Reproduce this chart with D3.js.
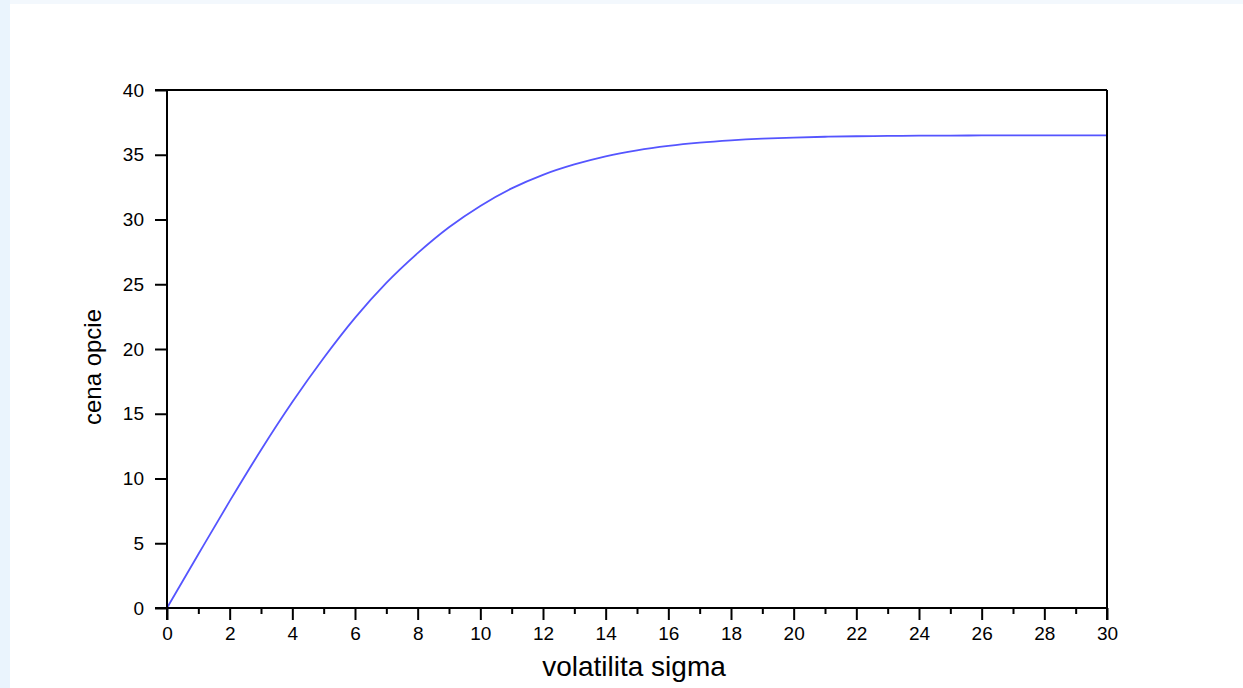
<!DOCTYPE html>
<html>
<head>
<meta charset="utf-8">
<script src="https://cdn.jsdelivr.net/npm/d3@7"></script>
<style>
  html, body { margin: 0; padding: 0; background: #ffffff; }
  svg { display: block; }
  text { font-family: "Liberation Sans", Arial, Helvetica, sans-serif; fill: #000; }
</style>
</head>
<body>
<svg id="chart" width="1243" height="688"></svg>
<script>
// Data
const sigma = [0, 1, 2, 3, 4, 5, 6, 7, 8, 9, 10, 11, 12, 13, 14, 15, 16, 17, 18, 19, 20, 21, 22, 23, 24, 25, 26, 27, 28, 29, 30];
const price = [0, 4.15, 8.25, 12.2, 15.9, 19.3, 22.4, 25.1, 27.4, 29.4, 31.05, 32.4, 33.45, 34.25, 34.88, 35.34, 35.68, 35.93, 36.11, 36.24, 36.33, 36.39, 36.43, 36.45, 36.47, 36.48, 36.49, 36.49, 36.5, 36.5, 36.5];
const xMajorTicks = [0, 2, 4, 6, 8, 10, 12, 14, 16, 18, 20, 22, 24, 26, 28, 30];
const xMinorTicks = [1, 3, 5, 7, 9, 11, 13, 15, 17, 19, 21, 23, 25, 27, 29];
const yTicks = [0, 5, 10, 15, 20, 25, 30, 35, 40];
const xLabel = "volatilita sigma";
const yLabel = "cena opcie";

const svg = d3.select("#chart");
const W = 1243, H = 688;
const mLeft = 167, mRight = 1107, mTop = 90, mBottom = 608;

// background strips
svg.append("rect").attr("x", 0).attr("y", 0).attr("width", W).attr("height", 4).attr("fill", "#f3f8fd");
svg.append("rect").attr("x", 0).attr("y", 0).attr("width", 10).attr("height", H).attr("fill", "#eaf4fd");

const x = d3.scaleLinear().domain([0, 30]).range([mLeft, mRight]);
const y = d3.scaleLinear().domain([0, 40]).range([mBottom, mTop]);

// curve
const line = d3.line().x((d, i) => x(sigma[i])).y(d => y(d)).curve(d3.curveMonotoneX);
svg.append("path").datum(price)
  .attr("d", line).attr("fill", "none")
  .attr("stroke", "#5555ff").attr("stroke-width", 1.8);

// frame top & right
svg.append("line").attr("x1", mLeft - 12).attr("x2", mRight).attr("y1", mTop).attr("y2", mTop)
  .attr("stroke", "#000").attr("stroke-width", 2);
svg.append("line").attr("x1", mRight).attr("x2", mRight).attr("y1", mTop).attr("y2", mBottom + 12)
  .attr("stroke", "#000").attr("stroke-width", 2);

// x axis
const gx = svg.append("g").attr("transform", `translate(0,${mBottom})`)
  .call(d3.axisBottom(x).tickValues(xMajorTicks).tickFormat(d3.format("d")).tickSize(12).tickSizeOuter(0).tickPadding(7));
gx.select(".domain").attr("stroke-width", 2).attr("d", `M${mLeft - 12},0H${mRight}`);
gx.selectAll(".tick line").attr("stroke-width", 2);
gx.selectAll("text").style("font-size", "19px").style("font-family", "Liberation Sans, Arial, sans-serif");

const gxm = svg.append("g").attr("transform", `translate(0,${mBottom})`)
  .call(d3.axisBottom(x).tickValues(xMinorTicks).tickFormat("").tickSize(6).tickSizeOuter(0));
gxm.select(".domain").remove();
gxm.selectAll(".tick line").attr("stroke-width", 2);

// y axis
const gy = svg.append("g").attr("transform", `translate(${mLeft},0)`)
  .call(d3.axisLeft(y).tickValues(yTicks).tickFormat(d3.format("d")).tickSize(12).tickSizeOuter(0).tickPadding(11));
gy.select(".domain").attr("stroke-width", 2).attr("d", `M0,${mTop}V${mBottom + 12}`);
gy.selectAll(".tick line").attr("stroke-width", 2);
gy.selectAll("text").style("font-size", "19px").style("font-family", "Liberation Sans, Arial, sans-serif");

// axis titles
svg.append("text").attr("x", (mLeft + mRight) / 2 - 3).attr("y", 676)
  .attr("text-anchor", "middle").style("font-size", "28px").text(xLabel);
svg.append("text").attr("transform", `translate(101,${(mTop + mBottom) / 2 + 18}) rotate(-90)`)
  .attr("text-anchor", "middle").style("font-size", "24px").text(yLabel);
</script>
</body>
</html>
